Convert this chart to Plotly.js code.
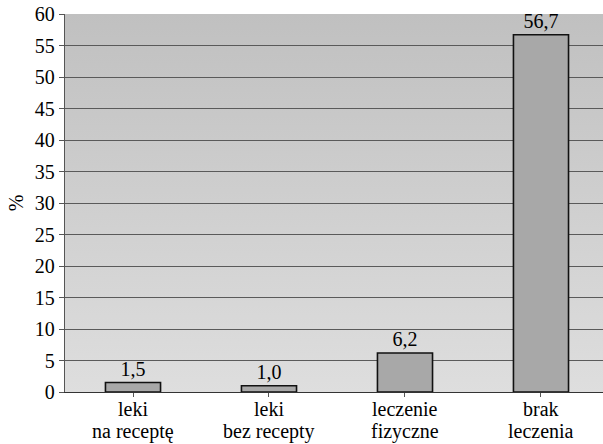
<!DOCTYPE html>
<html><head><meta charset="utf-8">
<script src="https://cdn.plot.ly/plotly-3.0.1.min.js"></script>
<style>html,body{margin:0;padding:0;background:#fff}</style>
</head><body>
<div id="chart" style="width:603px;height:444px"></div>
<script>
const categoriesLine1 = ["leki", "leki", "leczenie", "brak"];
const categoriesLine2 = ["na receptę", "bez recepty", "fizyczne", "leczenia"];
const values = [1.5, 1.0, 6.2, 56.7];
const yTicks = [0, 5, 10, 15, 20, 25, 30, 35, 40, 45, 50, 55, 60];
const positions = categoriesLine1.map((_, i) => i);

const grad = 'data:image/svg+xml;utf8,' + encodeURIComponent(
  '<svg xmlns="http://www.w3.org/2000/svg" width="100" height="100" preserveAspectRatio="none">' +
  '<defs><linearGradient id="g" x1="0" y1="0" x2="0" y2="1">' +
  '<stop offset="0" stop-color="#c0c0c0"/><stop offset="1" stop-color="#dedede"/></linearGradient></defs>' +
  '<rect width="100" height="100" fill="url(#g)"/></svg>');

const font = {family: 'Liberation Serif', size: 20, color: '#000'};
const catFont = {family: 'Liberation Serif', size: 20, color: '#000'};

const trace = {
  type: 'bar',
  x: positions,
  y: values,
  width: 0.405,
  marker: {color: '#a8a8a8', line: {color: '#111', width: 1.6}},
  texttemplate: '%{y:.1f}',
  textposition: 'outside',
  textfont: font,
  cliponaxis: false,
  hoverinfo: 'skip'
};

function catLabels(lines, shift) {
  return lines.map((t, i) => ({
    text: t, x: positions[i], xref: 'x', y: 0, yref: 'paper',
    yanchor: 'top', xanchor: 'center', yshift: shift, borderpad: 0,
    showarrow: false, font: catFont
  }));
}

const layout = {
  width: 603, height: 444,
  margin: {l: 65, r: 0, t: 14, b: 52},
  paper_bgcolor: '#fff',
  plot_bgcolor: 'rgba(0,0,0,0)',
  separators: ', ',
  showlegend: false,
  font: font,
  annotations: catLabels(categoriesLine1, -5).concat(catLabels(categoriesLine2, -27)),
  images: [{source: grad, xref: 'paper', yref: 'paper', x: 0, y: 1, sizex: 1, sizey: 1,
            sizing: 'stretch', layer: 'below', xanchor: 'left', yanchor: 'top'}],
  xaxis: {
    range: [-0.5, 3.456],
    tickvals: positions,
    ticktext: positions.map(() => ''),
    showticklabels: true,
    tickson: 'boundaries',
    ticks: 'outside', ticklen: 4, tickcolor: '#555', tickwidth: 1,
    showgrid: false, zeroline: false,
    showline: true, linecolor: '#333', linewidth: 1,
    tickfont: font, fixedrange: true
  },
  yaxis: {
    range: [0, 60],
    tickvals: yTicks,
    ticktext: yTicks.map(String),
    ticks: 'outside', ticklen: 5, tickcolor: '#555', tickwidth: 1,
    showgrid: true, gridcolor: '#5a5a5a', gridwidth: 1,
    zeroline: false,
    showline: true, linecolor: '#555', linewidth: 1.2,
    tickfont: font,
    title: {text: '%', font: font, standoff: 5},
    fixedrange: true
  }
};

Plotly.newPlot('chart', [trace], layout, {staticPlot: true, displayModeBar: false});
</script>
</body></html>
